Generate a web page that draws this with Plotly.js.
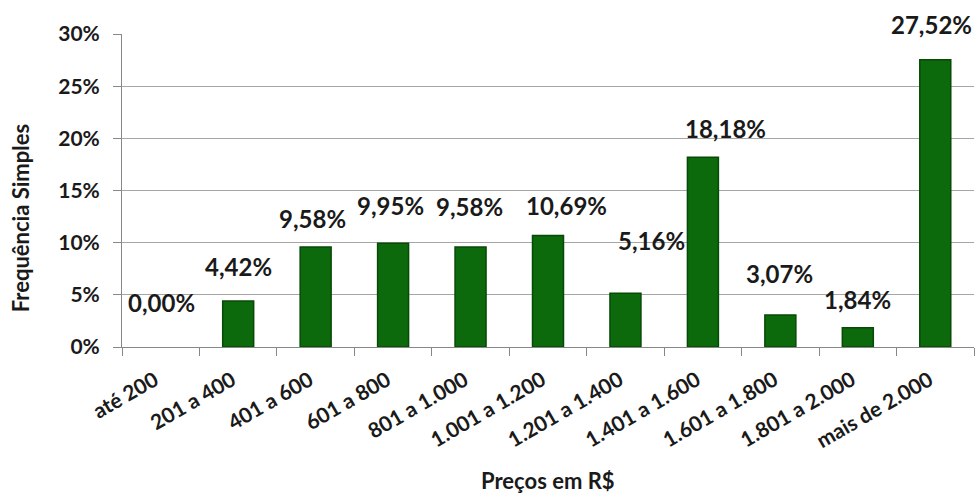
<!DOCTYPE html>
<html>
<head>
<meta charset="utf-8">
<script src="https://cdn.plot.ly/plotly-3.0.1.min.js"></script>
<style>html,body{margin:0;padding:0;background:#fff;}#chart{width:978px;height:493px;}</style>
</head>
<body>
<div id="chart"></div>
<script>
const categories = ["até 200","201 a 400","401 a 600","601 a 800","801 a 1.000","1.001 a 1.200","1.201 a 1.400","1.401 a 1.600","1.601 a 1.800","1.801 a 2.000","mais de 2.000"];
const values = [0.00, 4.42, 9.58, 9.95, 9.58, 10.69, 5.16, 18.18, 3.07, 1.84, 27.52];
const labels = ["0,00%","4,42%","9,58%","9,95%","9,58%","10,69%","5,16%","18,18%","3,07%","1,84%","27,52%"];
const yTickVals = [0, 5, 10, 15, 20, 25, 30];
const yTickText = ["0%","5%","10%","15%","20%","25%","30%"];
// label offsets in pixels (style only)
const labelDx = [1, 0, -3, -3, -1, 18, 26, 23, -1, 0, -4];
const labelDy = [45, 34, 29, 38, 41, 30, 53, 29, 41, 28, 35];

const FONT = "Lato, 'Open Sans', sans-serif";

const trace = {
  type: "bar",
  x: categories,
  y: values,
  marker: {color: "#0c690c", line: {color: "#074a07", width: values.map(v => v > 0 ? 1.5 : 0)}},
  width: 0.4,
  hoverinfo: "x+y"
};

const annotations = categories.map((c, i) => ({
  x: c, y: values[i], xref: "x", yref: "y",
  text: labels[i], showarrow: false,
  xshift: labelDx[i], yshift: labelDy[i],
  font: {family: FONT, size: 24, color: "#1a1a1a", weight: 700}
}));
annotations.push({
  xref: "paper", yref: "paper", x: 0.5, y: -0.425, yanchor: "middle",
  text: "Preços em R$", showarrow: false,
  font: {family: FONT, size: 22, color: "#1a1a1a", weight: 700}
});
annotations.push({
  xref: "paper", yref: "paper", x: -0.119, y: 0.41, xanchor: "center", yanchor: "middle",
  text: "Frequência Simples", showarrow: false, textangle: -90,
  font: {family: FONT, size: 22, color: "#1a1a1a", weight: 700}
});

const layout = {
  width: 978, height: 493,
  margin: {l: 122, r: 4, t: 34, b: 146},
  paper_bgcolor: "#fff", plot_bgcolor: "#fff",
  showlegend: false,
  xaxis: {
    type: "category",
    tickangle: -30,
    tickson: "boundaries",
    ticks: "outside", ticklen: 8, tickcolor: "#888",
    ticklabelshift: -6, ticklabelstandoff: 12,
    showline: true, linecolor: "#888", linewidth: 1,
    showgrid: false,
    tickfont: {family: FONT, size: 21, color: "#1a1a1a", weight: 700}
  },
  yaxis: {
    range: [0, 30],
    tickvals: yTickVals, ticktext: yTickText,
    ticks: "outside", ticklen: 8, tickcolor: "#888",
    ticklabelstandoff: 9,
    showline: true, linecolor: "#888", linewidth: 1,
    showgrid: true, gridcolor: "#a6a6a6", gridwidth: 1,
    zeroline: false,
    tickfont: {family: FONT, size: 21, color: "#1a1a1a", weight: 700}
  },
  annotations: annotations
};

Plotly.newPlot("chart", [trace], layout, {displayModeBar: false, staticPlot: true});
</script>
</body>
</html>
